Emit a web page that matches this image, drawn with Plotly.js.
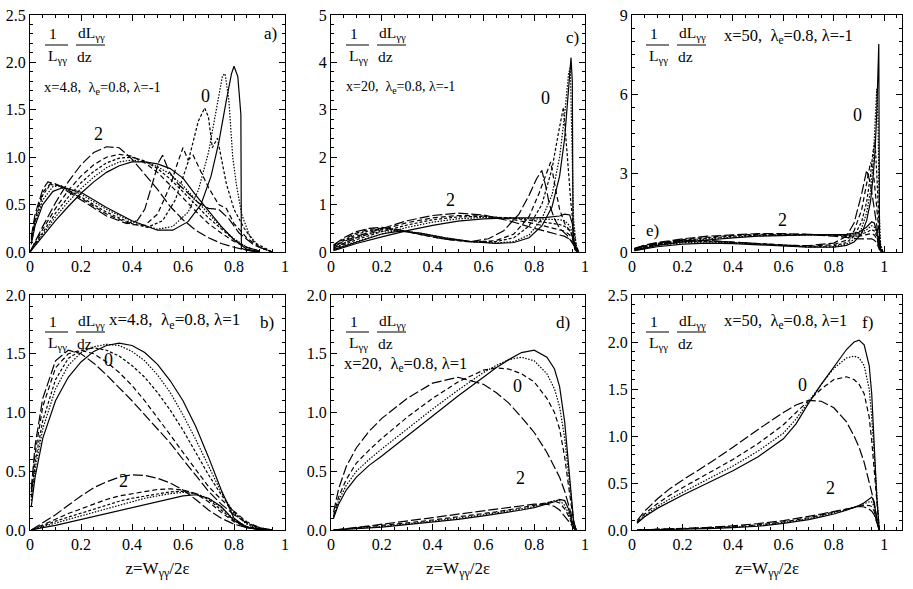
<!DOCTYPE html>
<html>
<head>
<meta charset="utf-8">
<script src="https://cdn.plot.ly/plotly-3.0.1.min.js"></script>
<style>html,body{margin:0;padding:0;background:#fff;}#plot{width:913px;height:589px;}</style>
</head>
<body>
<div id="plot"></div>
<script>
// ---------- tick labels ----------
const xTickVals = [0, 0.2, 0.4, 0.6, 0.8, 1];
const xTickText = ['0', '0.2', '0.4', '0.6', '0.8', '1'];

// ---------- panel a: x=4.8, lambda=-1 ----------
const a0_solid_x = [0.005,0.02,0.05,0.09,0.13,0.2,0.3,0.4,0.5,0.56,0.62,0.67,0.71,0.74,0.77,0.79,0.80,0.815,0.827,0.829,0.85,0.9];
const a0_solid_y = [0.08,0.28,0.5,0.64,0.68,0.63,0.47,0.33,0.23,0.23,0.32,0.5,0.8,1.15,1.6,1.88,1.96,1.85,1.45,0.04,0.02,0];
const a0_dot_x = [0.005,0.02,0.05,0.09,0.12,0.2,0.3,0.4,0.5,0.56,0.62,0.66,0.7,0.73,0.755,0.765,0.78,0.795,0.81,0.83,0.86,0.9,0.95];
const a0_dot_y = [0.1,0.3,0.55,0.69,0.7,0.61,0.45,0.32,0.24,0.27,0.42,0.65,1.05,1.5,1.86,1.88,1.6,1.0,0.7,0.4,0.18,0.05,0];
const a0_short_x = [0.005,0.02,0.05,0.08,0.12,0.2,0.3,0.4,0.46,0.52,0.57,0.62,0.66,0.685,0.7,0.715,0.735,0.75,0.77,0.8,0.84,0.88,0.95];
const a0_short_y = [0.12,0.33,0.6,0.71,0.7,0.58,0.42,0.3,0.26,0.33,0.55,0.95,1.38,1.52,1.42,1.1,1.2,1.0,0.72,0.45,0.25,0.1,0];
const a0_dash_x = [0.005,0.02,0.05,0.08,0.12,0.2,0.3,0.4,0.45,0.5,0.55,0.58,0.6,0.62,0.64,0.67,0.7,0.74,0.77,0.8,0.85,0.9,0.95];
const a0_dash_y = [0.14,0.36,0.63,0.72,0.7,0.57,0.4,0.29,0.28,0.4,0.7,0.95,1.1,0.97,1.02,0.85,0.68,0.5,0.46,0.3,0.15,0.05,0];
const a0_long_x = [0.005,0.02,0.05,0.07,0.1,0.2,0.3,0.38,0.42,0.45,0.48,0.505,0.52,0.545,0.58,0.62,0.66,0.7,0.74,0.78,0.82,0.88,0.95];
const a0_long_y = [0.16,0.4,0.66,0.74,0.72,0.55,0.38,0.3,0.33,0.45,0.72,0.95,1.02,0.85,0.72,0.62,0.52,0.46,0.45,0.35,0.2,0.07,0];
const a2_x = [0,0.05,0.1,0.15,0.2,0.25,0.3,0.35,0.4,0.45,0.5,0.55,0.6,0.65,0.7,0.75,0.8,0.85,0.9];
const a2_solid = [0,0.17,0.33,0.48,0.62,0.74,0.84,0.91,0.95,0.95,0.93,0.88,0.78,0.6,0.43,0.27,0.13,0.03,0];
const a2_dot = [0,0.19,0.37,0.53,0.67,0.79,0.89,0.95,0.97,0.95,0.9,0.82,0.7,0.55,0.4,0.26,0.14,0.05,0.01];
const a2_short = [0,0.21,0.41,0.58,0.73,0.85,0.94,0.99,1.0,0.96,0.88,0.77,0.64,0.5,0.36,0.24,0.13,0.05,0.01];
const a2_dash = [0,0.24,0.46,0.65,0.8,0.92,1.0,1.03,1.01,0.94,0.84,0.71,0.57,0.43,0.3,0.2,0.11,0.05,0.01];
const a2_long = [0,0.27,0.52,0.74,0.92,1.05,1.11,1.1,0.98,0.82,0.66,0.48,0.34,0.23,0.15,0.09,0.05,0.02,0];

// ---------- panel c: x=20, lambda=-1 ----------
const c0_solid_x = [0.01,0.05,0.1,0.15,0.2,0.27,0.35,0.45,0.55,0.65,0.72,0.78,0.83,0.87,0.9,0.92,0.935,0.945,0.95,0.953,0.96,0.97];
const c0_solid_y = [0.05,0.12,0.22,0.3,0.38,0.44,0.4,0.3,0.22,0.18,0.2,0.3,0.55,0.95,1.6,2.4,3.4,4.1,3.6,0.3,0.05,0];
const c0_dot_x = [0.01,0.05,0.1,0.15,0.2,0.27,0.35,0.45,0.55,0.65,0.72,0.78,0.83,0.87,0.9,0.92,0.935,0.942,0.948,0.955,0.965,0.975];
const c0_dot_y = [0.08,0.18,0.3,0.38,0.44,0.45,0.4,0.3,0.22,0.19,0.22,0.36,0.7,1.2,2.0,2.9,3.75,3.9,2.5,0.7,0.15,0];
const c0_short_x = [0.01,0.05,0.1,0.15,0.2,0.27,0.35,0.45,0.55,0.65,0.72,0.78,0.83,0.87,0.895,0.915,0.925,0.935,0.945,0.955,0.965,0.975];
const c0_short_y = [0.12,0.24,0.37,0.45,0.49,0.46,0.38,0.28,0.22,0.22,0.3,0.55,1.0,1.75,2.5,3.05,2.4,1.6,1.0,0.5,0.15,0];
const c0_dash_x = [0.01,0.05,0.1,0.15,0.2,0.27,0.35,0.45,0.55,0.65,0.72,0.78,0.82,0.845,0.865,0.885,0.9,0.92,0.94,0.96,0.975];
const c0_dash_y = [0.14,0.27,0.4,0.48,0.5,0.46,0.37,0.27,0.21,0.24,0.38,0.75,1.25,1.6,1.9,1.3,0.9,0.6,0.45,0.2,0];
const c0_long_x = [0.01,0.05,0.1,0.15,0.2,0.27,0.35,0.45,0.55,0.62,0.68,0.74,0.78,0.81,0.83,0.845,0.86,0.88,0.9,0.93,0.955,0.975];
const c0_long_y = [0.15,0.3,0.43,0.5,0.52,0.47,0.37,0.27,0.22,0.28,0.45,0.8,1.2,1.55,1.72,1.4,1.0,0.7,0.5,0.35,0.15,0];
const c2_x = [0.01,0.05,0.1,0.2,0.3,0.4,0.5,0.6,0.7,0.8,0.85,0.9,0.92,0.94,0.95,0.96,0.97];
const c2_solid = [0.03,0.1,0.18,0.32,0.45,0.56,0.65,0.7,0.72,0.72,0.73,0.76,0.8,0.78,0.6,0.1,0];
const c2_dot = [0.05,0.13,0.22,0.38,0.52,0.63,0.7,0.73,0.72,0.7,0.69,0.68,0.66,0.55,0.4,0.15,0.02];
const c2_short = [0.07,0.16,0.26,0.43,0.57,0.68,0.74,0.75,0.72,0.66,0.62,0.58,0.54,0.45,0.35,0.15,0.03];
const c2_dash = [0.09,0.19,0.3,0.47,0.62,0.72,0.77,0.76,0.7,0.6,0.54,0.48,0.44,0.36,0.28,0.13,0.03];
const c2_long = [0.11,0.22,0.33,0.5,0.66,0.77,0.82,0.78,0.66,0.5,0.43,0.37,0.33,0.27,0.22,0.12,0.03];

// ---------- panel e: x=50, lambda=-1 ----------
const e0_solid_x = [0.01,0.05,0.1,0.2,0.3,0.4,0.5,0.6,0.7,0.8,0.85,0.88,0.91,0.93,0.945,0.955,0.963,0.97,0.975,0.978,0.981,0.99];
const e0_solid_y = [0.05,0.12,0.2,0.3,0.34,0.32,0.27,0.22,0.18,0.18,0.25,0.38,0.7,1.2,1.9,2.8,3.8,5.3,7.0,7.9,0.2,0];
const e0_x = [0.01,0.05,0.1,0.2,0.3,0.4,0.5,0.6,0.7,0.8,0.85,0.88,0.91,0.93,0.945,0.955,0.963,0.97,0.975,0.98,0.985,0.995];
const e0_dot_y = [0.08,0.16,0.25,0.35,0.38,0.35,0.29,0.23,0.19,0.2,0.3,0.48,0.9,1.5,2.3,3.3,4.6,6.2,5.0,1.5,0.3,0];
const e0_short_y = [0.1,0.19,0.28,0.38,0.4,0.36,0.3,0.24,0.2,0.23,0.36,0.6,1.15,1.9,2.9,3.8,4.2,3.0,1.8,0.8,0.2,0];
const e0_dash_y = [0.12,0.22,0.31,0.41,0.42,0.37,0.3,0.25,0.22,0.28,0.45,0.8,1.6,2.6,3.4,3.2,2.4,1.6,1.0,0.5,0.15,0];
const e0_long_y = [0.14,0.25,0.34,0.44,0.44,0.38,0.31,0.26,0.24,0.34,0.6,1.1,2.2,3.1,2.6,1.9,1.4,1.0,0.7,0.4,0.12,0];
const e2_x = [0.01,0.05,0.1,0.2,0.3,0.4,0.5,0.6,0.7,0.8,0.85,0.9,0.93,0.95,0.96,0.97,0.98,0.99];
const e2_solid = [0.05,0.15,0.25,0.38,0.47,0.54,0.6,0.63,0.65,0.66,0.67,0.75,0.95,1.15,1.1,0.8,0.2,0];
const e2_dot = [0.07,0.18,0.28,0.41,0.5,0.57,0.62,0.64,0.65,0.65,0.65,0.7,0.85,1.0,0.95,0.7,0.2,0];
const e2_short = [0.09,0.2,0.3,0.44,0.53,0.6,0.64,0.66,0.66,0.64,0.63,0.65,0.75,0.85,0.8,0.6,0.2,0];
const e2_dash = [0.11,0.23,0.33,0.47,0.56,0.63,0.67,0.68,0.67,0.63,0.6,0.6,0.65,0.7,0.65,0.5,0.15,0];
const e2_long = [0.13,0.26,0.36,0.5,0.6,0.66,0.7,0.7,0.67,0.6,0.55,0.5,0.5,0.5,0.45,0.35,0.1,0];

// ---------- panel b: x=4.8, lambda=1 ----------
const b_x = [0.005,0.02,0.05,0.1,0.15,0.2,0.25,0.3,0.35,0.4,0.45,0.5,0.55,0.6,0.65,0.7,0.75,0.8,0.85,0.9,0.95];
const b0_solid = [0.2,0.45,0.78,1.1,1.3,1.43,1.52,1.57,1.59,1.57,1.51,1.41,1.27,1.1,0.88,0.62,0.34,0.1,0.02,0.005,0];
const b0_dot = [0.25,0.52,0.86,1.2,1.4,1.51,1.56,1.58,1.57,1.52,1.44,1.32,1.17,0.98,0.77,0.54,0.32,0.14,0.05,0.01,0];
const b0_short = [0.28,0.58,0.93,1.28,1.46,1.53,1.55,1.53,1.48,1.4,1.3,1.17,1.02,0.85,0.66,0.47,0.3,0.15,0.06,0.015,0];
const b0_dash = [0.32,0.65,1.05,1.38,1.5,1.53,1.5,1.43,1.34,1.23,1.1,0.96,0.81,0.66,0.51,0.37,0.26,0.16,0.07,0.02,0];
const b0_long = [0.35,0.72,1.12,1.44,1.53,1.5,1.42,1.32,1.21,1.1,0.98,0.86,0.74,0.6,0.47,0.33,0.22,0.13,0.06,0.02,0];
const b2_solid = [0,0.005,0.02,0.04,0.065,0.09,0.115,0.14,0.165,0.19,0.215,0.24,0.265,0.29,0.3,0.27,0.2,0.08,0.02,0.005,0];
const b2_dot = [0,0.01,0.03,0.06,0.09,0.12,0.15,0.185,0.215,0.245,0.27,0.29,0.31,0.32,0.31,0.27,0.19,0.09,0.03,0.01,0];
const b2_short = [0,0.01,0.035,0.075,0.11,0.145,0.18,0.215,0.245,0.27,0.29,0.31,0.325,0.33,0.31,0.26,0.17,0.08,0.03,0.01,0];
const b2_dash = [0,0.015,0.045,0.095,0.14,0.18,0.22,0.26,0.29,0.31,0.33,0.345,0.35,0.34,0.31,0.24,0.15,0.07,0.025,0.005,0];
const b2_long = [0,0.02,0.06,0.13,0.21,0.29,0.36,0.41,0.45,0.47,0.465,0.44,0.4,0.34,0.26,0.17,0.1,0.05,0.02,0.005,0];

// ---------- panel d: x=20, lambda=1 ----------
const d_x = [0.01,0.03,0.06,0.1,0.15,0.2,0.3,0.4,0.5,0.6,0.65,0.7,0.75,0.8,0.85,0.88,0.9,0.92,0.935,0.945,0.955,0.965];
const d0_solid = [0.1,0.22,0.34,0.45,0.55,0.63,0.8,0.97,1.14,1.3,1.38,1.45,1.51,1.53,1.47,1.37,1.22,0.92,0.55,0.3,0.08,0];
const d0_dot = [0.11,0.25,0.38,0.5,0.6,0.69,0.86,1.03,1.19,1.34,1.4,1.45,1.47,1.44,1.33,1.2,1.05,0.78,0.48,0.27,0.08,0];
const d0_dash = [0.12,0.28,0.43,0.57,0.68,0.78,0.96,1.12,1.26,1.36,1.38,1.37,1.33,1.26,1.12,1.0,0.86,0.62,0.38,0.22,0.07,0];
const d0_long = [0.15,0.35,0.54,0.7,0.84,0.95,1.12,1.25,1.3,1.24,1.17,1.08,0.96,0.83,0.66,0.54,0.45,0.33,0.22,0.14,0.05,0];
const d2_solid = [0,0.002,0.005,0.01,0.018,0.025,0.045,0.065,0.09,0.12,0.135,0.15,0.17,0.19,0.22,0.24,0.26,0.25,0.18,0.1,0.03,0];
const d2_dot = [0,0.003,0.007,0.013,0.022,0.03,0.052,0.075,0.1,0.13,0.145,0.16,0.18,0.2,0.23,0.25,0.25,0.21,0.14,0.08,0.025,0];
const d2_dash = [0,0.004,0.009,0.016,0.026,0.036,0.06,0.085,0.11,0.14,0.155,0.17,0.19,0.21,0.235,0.245,0.23,0.18,0.12,0.07,0.02,0];
const d2_long = [0,0.006,0.013,0.022,0.035,0.048,0.076,0.105,0.135,0.165,0.18,0.195,0.21,0.22,0.22,0.2,0.17,0.12,0.08,0.05,0.015,0];

// ---------- panel f: x=50, lambda=1 ----------
const f_x = [0.02,0.05,0.1,0.15,0.2,0.3,0.4,0.5,0.6,0.65,0.7,0.75,0.8,0.85,0.88,0.9,0.92,0.94,0.95,0.96,0.97,0.98];
const f0_solid = [0.07,0.14,0.23,0.3,0.37,0.5,0.63,0.78,0.97,1.13,1.35,1.55,1.74,1.92,2.0,2.02,1.97,1.75,1.45,0.95,0.35,0];
const f0_dot = [0.08,0.15,0.25,0.33,0.4,0.54,0.68,0.84,1.03,1.18,1.37,1.55,1.72,1.83,1.85,1.83,1.75,1.5,1.2,0.8,0.3,0];
const f0_dash = [0.08,0.17,0.28,0.37,0.45,0.6,0.75,0.92,1.12,1.25,1.37,1.5,1.6,1.63,1.6,1.55,1.45,1.2,0.95,0.6,0.25,0];
const f0_long = [0.1,0.2,0.33,0.44,0.53,0.7,0.88,1.07,1.25,1.33,1.38,1.37,1.3,1.15,1.0,0.88,0.72,0.52,0.4,0.27,0.12,0];
const f2_solid = [0,0.001,0.003,0.005,0.008,0.015,0.025,0.04,0.07,0.09,0.11,0.14,0.17,0.21,0.24,0.26,0.29,0.33,0.35,0.3,0.1,0];
const f2_dot = [0,0.002,0.004,0.007,0.01,0.018,0.03,0.047,0.078,0.098,0.12,0.15,0.18,0.215,0.24,0.26,0.28,0.3,0.3,0.25,0.09,0];
const f2_dash = [0,0.002,0.005,0.008,0.012,0.021,0.035,0.055,0.086,0.106,0.13,0.16,0.19,0.22,0.24,0.255,0.265,0.26,0.25,0.2,0.08,0];
const f2_long = [0,0.003,0.007,0.011,0.016,0.027,0.045,0.068,0.1,0.12,0.145,0.17,0.2,0.225,0.24,0.25,0.245,0.22,0.2,0.16,0.07,0];

// ---------- build traces ----------
const dashes = {solid: 'solid', dot: '1.5px,1.5px', short: '3px,2px', dash: '5px,3px', long: '10px,3px'};
const traces = [];
function add(x, y, ax, style) {
  traces.push({x: x, y: y, xaxis: 'x' + ax, yaxis: 'y' + ax, type: 'scatter', mode: 'lines',
    line: {color: '#000', width: 1.2, dash: dashes[style]}, hoverinfo: 'skip', showlegend: false});
}
// a -> axis 1
add(a0_solid_x, a0_solid_y, '', 'solid'); add(a0_dot_x, a0_dot_y, '', 'dot'); add(a0_short_x, a0_short_y, '', 'short');
add(a0_dash_x, a0_dash_y, '', 'dash'); add(a0_long_x, a0_long_y, '', 'long');
add(a2_x, a2_solid, '', 'solid'); add(a2_x, a2_dot, '', 'dot'); add(a2_x, a2_short, '', 'short');
add(a2_x, a2_dash, '', 'dash'); add(a2_x, a2_long, '', 'long');
// c -> axis 2
add(c0_solid_x, c0_solid_y, '2', 'solid'); add(c0_dot_x, c0_dot_y, '2', 'dot'); add(c0_short_x, c0_short_y, '2', 'short');
add(c0_dash_x, c0_dash_y, '2', 'dash'); add(c0_long_x, c0_long_y, '2', 'long');
add(c2_x, c2_solid, '2', 'solid'); add(c2_x, c2_dot, '2', 'dot'); add(c2_x, c2_short, '2', 'short');
add(c2_x, c2_dash, '2', 'dash'); add(c2_x, c2_long, '2', 'long');
// e -> axis 3
add(e0_solid_x, e0_solid_y, '3', 'solid'); add(e0_x, e0_dot_y, '3', 'dot'); add(e0_x, e0_short_y, '3', 'short');
add(e0_x, e0_dash_y, '3', 'dash'); add(e0_x, e0_long_y, '3', 'long');
add(e2_x, e2_solid, '3', 'solid'); add(e2_x, e2_dot, '3', 'dot'); add(e2_x, e2_short, '3', 'short');
add(e2_x, e2_dash, '3', 'dash'); add(e2_x, e2_long, '3', 'long');
// b -> axis 4
add(b_x, b0_solid, '4', 'solid'); add(b_x, b0_dot, '4', 'dot'); add(b_x, b0_short, '4', 'short');
add(b_x, b0_dash, '4', 'dash'); add(b_x, b0_long, '4', 'long');
add(b_x, b2_solid, '4', 'solid'); add(b_x, b2_dot, '4', 'dot'); add(b_x, b2_short, '4', 'short');
add(b_x, b2_dash, '4', 'dash'); add(b_x, b2_long, '4', 'long');
// d -> axis 5
add(d_x, d0_solid, '5', 'solid'); add(d_x, d0_dot, '5', 'dot'); add(d_x, d0_dash, '5', 'dash'); add(d_x, d0_long, '5', 'long');
add(d_x, d2_solid, '5', 'solid'); add(d_x, d2_dot, '5', 'dot'); add(d_x, d2_dash, '5', 'dash'); add(d_x, d2_long, '5', 'long');
// f -> axis 6
add(f_x, f0_solid, '6', 'solid'); add(f_x, f0_dot, '6', 'dot'); add(f_x, f0_dash, '6', 'dash'); add(f_x, f0_long, '6', 'long');
add(f_x, f2_solid, '6', 'solid'); add(f_x, f2_dot, '6', 'dot'); add(f_x, f2_dash, '6', 'dash'); add(f_x, f2_long, '6', 'long');

// ---------- layout ----------
const W = 913, H = 589;
const FONT = 'Liberation Serif, Times New Roman, serif';
const px = v => v / W, py = v => 1 - v / H;
function xax(l, r, xmax, anchor, withTitle) {
  const o = {domain: [px(l), px(r)], range: [0, xmax], anchor: anchor,
    showline: true, linecolor: '#000', linewidth: 1, mirror: 'allticks',
    ticks: 'inside', ticklen: 6, tickcolor: '#000', tickwidth: 1,
    tickmode: 'array', tickvals: xTickVals, ticktext: xTickText,
    minor: {ticks: 'inside', ticklen: 3, tickcolor: '#000', dtick: 0.05, tick0: 0, showgrid: false},
    showgrid: false, zeroline: false, fixedrange: true,
    tickfont: {family: FONT, size: 16, color: '#000'}};
  if (withTitle) o.title = {text: 'z=W<sub>γγ</sub>/2ε', font: {family: FONT, size: 17, color: '#000'}, standoff: 9};
  return o;
}
function yax(t, b, ymax, dtick, minor, fmt, anchor) {
  return {domain: [py(b), py(t)], range: [0, ymax], anchor: anchor,
    showline: true, linecolor: '#000', linewidth: 1, mirror: 'allticks',
    ticks: 'inside', ticklen: 6, tickcolor: '#000', tickwidth: 1,
    dtick: dtick, tick0: 0, tickformat: fmt,
    minor: {ticks: 'inside', ticklen: 3, tickcolor: '#000', dtick: minor, tick0: 0, showgrid: false},
    showgrid: false, zeroline: false, fixedrange: true,
    tickfont: {family: FONT, size: 16, color: '#000'}};
}

const annotations = [];
const shapes = [];
function txt(x, y, s, size, anchor) {
  annotations.push({xref: 'paper', yref: 'paper', x: px(x), y: py(y), text: s, showarrow: false,
    xanchor: anchor || 'center', yanchor: 'middle', font: {family: FONT, size: size || 15, color: '#000'}});
}
function frac(x0, y0) {
  // x0,y0: pixel position of the numerator "1"
  txt(x0, y0 - 2, '1', 15.5);
  txt(x0 + 4, y0 + 20, 'L<sub>γγ</sub>', 15.5);
  shapes.push({type: 'line', xref: 'paper', yref: 'paper', x0: px(x0 - 8), x1: px(x0 + 15), y0: py(y0 + 9), y1: py(y0 + 9), line: {color: '#000', width: 1}});
  txt(x0 + 38, y0 - 2, 'dL<sub>γγ</sub>', 15.5);
  txt(x0 + 31, y0 + 20, 'dz', 15.5);
  shapes.push({type: 'line', xref: 'paper', yref: 'paper', x0: px(x0 + 23), x1: px(x0 + 52), y0: py(y0 + 9), y1: py(y0 + 9), line: {color: '#000', width: 1}});
}
// panel a
frac(53, 36); txt(270, 34, 'a)', 17); txt(42, 88, 'x=4.8,  λ<sub>e</sub>=0.8, λ=-1', 14.5, 'left');
txt(98, 134, '2', 18); txt(205, 96, '0', 18);
// panel c
frac(354, 36); txt(572, 37, 'c)', 17); txt(344, 88, 'x=20,  λ<sub>e</sub>=0.8, λ=-1', 14, 'left');
txt(545, 98, '0', 18); txt(450, 200, '2', 18);
// panel e
frac(654, 36); txt(722, 36, 'x=50,  λ<sub>e</sub>=0.8, λ=-1', 16.5, 'left');
txt(857, 115, '0', 18); txt(782, 220, '2', 18); txt(652, 230, 'e)', 17);
// panel b
frac(53, 323); txt(267, 322, 'b)', 17); txt(107, 321, 'x=4.8,  λ<sub>e</sub>=0.8, λ=1', 17, 'left');
txt(108, 360, '0', 18); txt(123, 481, '2', 18);
// panel d
frac(354, 323); txt(563, 322, 'd)', 17); txt(342, 364, 'x=20,  λ<sub>e</sub>=0.8, λ=1', 16.5, 'left');
txt(517, 386, '0', 18); txt(520, 478, '2', 18);
// panel f
frac(654, 323); txt(867, 322, 'f)', 17); txt(722, 321, 'x=50,  λ<sub>e</sub>=0.8, λ=1', 16.5, 'left');
txt(802, 385, '0', 18); txt(830, 488, '2', 18);

const layout = {
  width: W, height: H, margin: {l: 0, r: 0, t: 0, b: 0},
  paper_bgcolor: '#fff', plot_bgcolor: '#fff', showlegend: false,
  font: {family: FONT, color: '#000'},
  xaxis: xax(30, 285, 1.0, 'y', false),
  yaxis: yax(15, 252, 2.5, 0.5, 0.1, '.1f', 'x'),
  xaxis2: xax(331, 585, 1.0, 'y2', false),
  yaxis2: yax(15, 252, 5, 1, 0.2, 'd', 'x2'),
  xaxis3: xax(632, 902, 1.07, 'y3', false),
  yaxis3: yax(15, 252, 9, 3, 0.5, 'd', 'x3'),
  xaxis4: xax(30, 285, 1.0, 'y4', true),
  yaxis4: yax(295, 530, 2.0, 0.5, 0.1, '.1f', 'x4'),
  xaxis5: xax(331, 585, 1.0, 'y5', true),
  yaxis5: yax(295, 530, 2.0, 0.5, 0.1, '.1f', 'x5'),
  xaxis6: xax(632, 902, 1.07, 'y6', true),
  yaxis6: yax(295, 530, 2.5, 0.5, 0.1, '.1f', 'x6'),
  annotations: annotations,
  shapes: shapes
};

Plotly.newPlot('plot', traces, layout, {displayModeBar: false});
</script>
</body>
</html>
